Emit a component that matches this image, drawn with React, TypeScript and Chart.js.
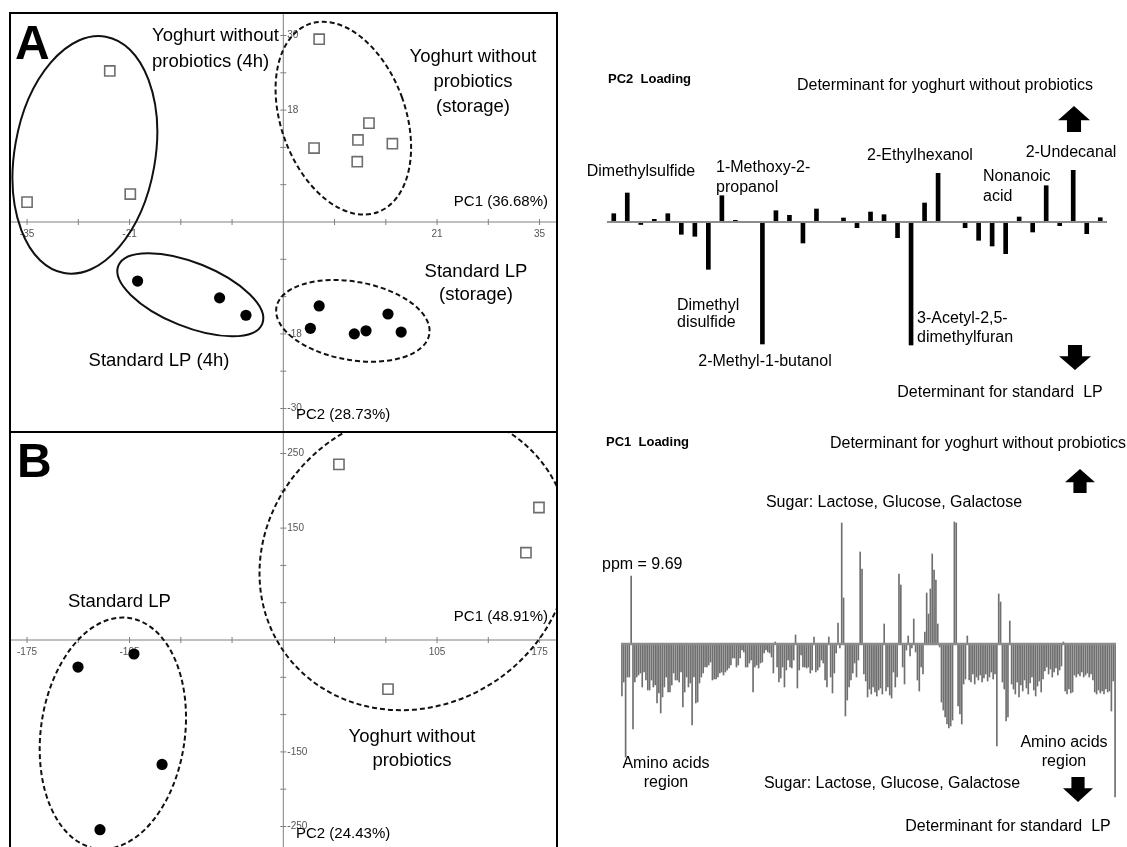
import React, { useEffect, useRef } from "react";
import { Chart, registerables } from "chart.js";

Chart.register(...registerables);

const FONT = '"Liberation Sans", Arial, Helvetica, sans-serif';
Chart.defaults.font.family = FONT;

// ---------------- Panel A: PCA scores, PC1 vs PC2 ----------------
const aYog4hPC1 = [-23.7, -35.0, -20.9];
const aYog4hPC2 = [24.3, 3.2, 4.5];
const aYogStoragePC1 = [4.9, 11.7, 10.2, 14.9, 4.2, 10.1];
const aYogStoragePC2 = [29.4, 15.9, 13.2, 12.6, 11.9, 9.7];
const aLp4hPC1 = [-19.9, -8.7, -5.1];
const aLp4hPC2 = [-9.5, -12.2, -15.0];
const aLpStoragePC1 = [4.9, 3.7, 9.7, 11.3, 14.3, 16.1];
const aLpStoragePC2 = [-13.5, -17.1, -18.0, -17.5, -14.8, -17.7];
const aXTicks = [-35, -28, -21, -14, -7, 7, 14, 21, 28, 35];
const aXTickLabels = [-35, -21, 21, 35];
const aYTicks = [-30, -24, -18, -12, -6, 6, 12, 18, 24, 30];
const aYTickLabels = [30, 18, -18, -30];
// group ellipses: centre (PC1, PC2), semi-axes in score units, tilt in degrees
const aEllipses = [
  { cx: -27.1, cy: 10.8, rx: 9.6, ry: 19.3, tilt: 10 },
  { cx: 8.2, cy: 16.7, rx: 8.5, ry: 16.1, tilt: -20 },
  { cx: -12.7, cy: -11.7, rx: 10.6, ry: 5.15, tilt: 22 },
  { cx: 9.5, cy: -15.9, rx: 10.6, ry: 6.3, tilt: 10 },
];
const aEllipseDashed = [false, true, false, true];

// ---------------- Panel B: PCA scores, PC1 vs PC2 ----------------
const bYogPC1 = [38.0, 174.6, 165.7, 71.5];
const bYogPC2 = [235.4, 177.6, 117.0, -65.9];
const bLpPC1 = [-140.2, -102.0, -82.8, -125.2];
const bLpPC2 = [-36.3, -18.8, -166.8, -254.3];
const bXTicks = [-175, -140, -105, -70, -35, 35, 70, 105, 140, 175];
const bXTickLabels = [-175, -105, 105, 175];
const bYTicks = [-250, -200, -150, -100, -50, 50, 100, 150, 200, 250];
const bYTickLabels = [250, 150, -150, -250];
const bEllipses = [
  { cx: 89.9, cy: 107.6, rx: 109.3, ry: 195.1, tilt: -35 },
  { cx: -116.4, cy: -125.1, rx: 49.2, ry: 156.1, tilt: 8 },
];
const bEllipseDashed = [true, true];

// ---------------- PC2 loadings (volatile compounds) ----------------
const pc2Loadings = [
  8.3, 29, -2.5, 2.7, 8.3, -12.3, -14.3, -47.3, 26.3, 1.7, 0, -122, 11.3, 6.7, -21, 13, 0, 4, -5.7,
  10, 7.3, -15.7, -123, 19, 48.7, 0, -5.7, -18.3, -24, -31.7, 5, -10, 36.3, -3.7, 51.7, -11.7, 4.3,
];
const pc2Compounds = pc2Loadings.map((_, i) => `V${i + 1}`);

// ---------------- PC1 loadings (NMR bins) ----------------
const pc1Loadings = [
  -52, -38, -113, -33, -33, 68, -85, -38, -33, -31, -29, -43, -28, -36, -46, -46, -36, -43, -41, -59,
  -49, -69, -53, -43, -33, -48, -48, -41, -29, -36, -36, -38, -28, -63, -48, -33, -43, -39, -81, -33,
  -59, -58, -39, -33, -29, -23, -23, -21, -18, -36, -35, -35, -33, -29, -28, -31, -28, -26, -24, -21,
  -14, -14, -23, -21, -14, -6, -8, -23, -23, -19, -16, -48, -23, -21, -24, -19, -18, -9, -6, -8,
  -9, -13, -29, 2, -23, -38, -34, -23, -43, -26, -16, -23, -24, -16, 9, -44, -26, -11, -23, -23,
  -24, -23, -29, -26, 7, -28, -26, -23, -16, -19, -36, -43, 7, -33, -49, -29, -9, 21, -4, 121,
  46, -72, -56, -43, -36, -29, -19, -33, -16, 92, 75, -30, -37, -53, -45, -50, -43, -48, -52, -46,
  -44, -50, 20, -47, -43, -51, -54, -28, -43, -33, 70, 59, -23, -40, -6, 8, -12, -4, 25, -8,
  -36, -47, -23, -30, 12, 51, 30, 55, 90, 74, 64, 20, -3, -58, -66, -73, -80, -84, -82, -76,
  122, 121, -62, -70, -80, -40, -35, 8, -36, -38, -30, -40, -33, -36, -31, -38, -34, -30, -37, -33,
  -28, -35, -30, -102, 50, 42, -38, -45, -77, -73, 23, -40, -45, -50, -38, -53, -41, -47, -36, -44,
  -50, -39, -33, -46, -52, -42, -37, -48, -35, -27, -23, -30, -25, -33, -28, -24, -31, -26, -22, 2,
  -47, -50, -45, -49, -48, -31, -33, -30, -32, -28, -33, -31, -29, -33, -30, -36, -48, -50, -46, -49,
  -47, -50, -45, -48, -47, -67, -37, -153,
];
const pc1Bins = pc1Loadings.map((_, i) => `B${i + 1}`);

// ---------------- layout ----------------
type Box = { left: number; top: number; width: number; height: number };
type Note = { t: string; x: number; y: number; align?: CanvasTextAlign; size: number; bold?: boolean };
type Arrow = { cx: number; top: number; bottom: number; w: number; dir: "up" | "down" };

const boxA: Box = { left: 9, top: 12, width: 549, height: 421 };
const boxB: Box = { left: 9, top: 431, width: 549, height: 418 };
const boxPC2: Box = { left: 570, top: 60, width: 557, height: 350 };
const boxPC1: Box = { left: 570, top: 420, width: 557, height: 427 };

const BIG = 18.5;
const AXT = 15;
const RT = 16;

const notesA: Note[] = [
  { t: "A", x: 15, y: 46, align: "left", size: 48, bold: true },
  { t: "Yoghurt without", x: 152, y: 36, align: "left", size: BIG },
  { t: "probiotics (4h)", x: 152, y: 62, align: "left", size: BIG },
  { t: "Yoghurt without", x: 473, y: 57, size: BIG },
  { t: "probiotics", x: 473, y: 82, size: BIG },
  { t: "(storage)", x: 473, y: 107, size: BIG },
  { t: "PC1 (36.68%)", x: 548, y: 202, align: "right", size: AXT },
  { t: "Standard LP (4h)", x: 159, y: 361, size: BIG },
  { t: "Standard LP", x: 476, y: 272, size: BIG },
  { t: "(storage)", x: 476, y: 295, size: BIG },
  { t: "PC2 (28.73%)", x: 296, y: 415, align: "left", size: AXT },
];
const notesB: Note[] = [
  { t: "B", x: 17, y: 464, align: "left", size: 48, bold: true },
  { t: "Standard LP", x: 68, y: 602, align: "left", size: BIG },
  { t: "Yoghurt without", x: 412, y: 737, size: BIG },
  { t: "probiotics", x: 412, y: 761, size: BIG },
  { t: "PC1 (48.91%)", x: 548, y: 617, align: "right", size: AXT },
  { t: "PC2 (24.43%)", x: 296, y: 834, align: "left", size: AXT },
];
const notesPC2: Note[] = [
  { t: "PC2  Loading", x: 608, y: 79, align: "left", size: 13, bold: true },
  { t: "Determinant for yoghurt without probiotics", x: 945, y: 86, size: RT },
  { t: "Dimethylsulfide", x: 641, y: 172, size: RT },
  { t: "1-Methoxy-2-", x: 716, y: 168, align: "left", size: RT },
  { t: "propanol", x: 716, y: 188, align: "left", size: RT },
  { t: "2-Ethylhexanol", x: 920, y: 156, size: RT },
  { t: "2-Undecanal", x: 1071, y: 153, size: RT },
  { t: "Nonanoic", x: 983, y: 177, align: "left", size: RT },
  { t: "acid", x: 983, y: 197, align: "left", size: RT },
  { t: "Dimethyl", x: 677, y: 306, align: "left", size: RT },
  { t: "disulfide", x: 677, y: 323, align: "left", size: RT },
  { t: "2-Methyl-1-butanol", x: 765, y: 362, size: RT },
  { t: "3-Acetyl-2,5-", x: 917, y: 319, align: "left", size: RT },
  { t: "dimethylfuran", x: 917, y: 338, align: "left", size: RT },
  { t: "Determinant for standard  LP", x: 1000, y: 393, size: RT },
];
const arrowsPC2: Arrow[] = [
  { cx: 1074, top: 106, bottom: 132, w: 32, dir: "up" },
  { cx: 1075, top: 345, bottom: 370, w: 32, dir: "down" },
];
const notesPC1: Note[] = [
  { t: "PC1  Loading", x: 606, y: 442, align: "left", size: 13, bold: true },
  { t: "Determinant for yoghurt without probiotics", x: 978, y: 444, size: RT },
  { t: "Sugar: Lactose, Glucose, Galactose", x: 894, y: 503, size: RT },
  { t: "ppm = 9.69", x: 602, y: 565, align: "left", size: RT },
  { t: "Amino acids", x: 666, y: 764, size: RT },
  { t: "region", x: 666, y: 783, size: RT },
  { t: "Sugar: Lactose, Glucose, Galactose", x: 892, y: 784, size: RT },
  { t: "Amino acids", x: 1064, y: 743, size: RT },
  { t: "region", x: 1064, y: 762, size: RT },
  { t: "Determinant for standard  LP", x: 1008, y: 827, size: RT },
];
const arrowsPC1: Arrow[] = [
  { cx: 1080, top: 469, bottom: 493, w: 30, dir: "up" },
  { cx: 1078, top: 777, bottom: 802, w: 30, dir: "down" },
];

// ---------------- drawing helpers ----------------
function drawNotes(ctx: CanvasRenderingContext2D, notes: Note[], box: Box) {
  ctx.save();
  ctx.fillStyle = "#000";
  ctx.textBaseline = "middle";
  for (const n of notes) {
    ctx.font = `${n.bold ? "bold " : ""}${n.size}px ${FONT}`;
    ctx.textAlign = n.align ?? "center";
    ctx.fillText(n.t, n.x - box.left, n.y - box.top);
  }
  ctx.restore();
}

function drawArrows(ctx: CanvasRenderingContext2D, arrows: Arrow[], box: Box) {
  ctx.save();
  ctx.fillStyle = "#000";
  for (const a of arrows) {
    const cx = a.cx - box.left;
    const top = a.top - box.top;
    const bot = a.bottom - box.top;
    const h = bot - top;
    const head = h * 0.55;
    const sw = a.w * 0.44;
    ctx.beginPath();
    if (a.dir === "up") {
      ctx.moveTo(cx, top);
      ctx.lineTo(cx + a.w / 2, top + head);
      ctx.lineTo(cx + sw / 2, top + head);
      ctx.lineTo(cx + sw / 2, bot);
      ctx.lineTo(cx - sw / 2, bot);
      ctx.lineTo(cx - sw / 2, top + head);
      ctx.lineTo(cx - a.w / 2, top + head);
    } else {
      ctx.moveTo(cx, bot);
      ctx.lineTo(cx + a.w / 2, bot - head);
      ctx.lineTo(cx + sw / 2, bot - head);
      ctx.lineTo(cx + sw / 2, top);
      ctx.lineTo(cx - sw / 2, top);
      ctx.lineTo(cx - sw / 2, bot - head);
      ctx.lineTo(cx - a.w / 2, bot - head);
    }
    ctx.closePath();
    ctx.fill();
  }
  ctx.restore();
}

type Ellipse = { cx: number; cy: number; rx: number; ry: number; tilt: number };
type ScoreSpec = {
  box: Box;
  xRange: [number, number];
  yRange: [number, number];
  squares: { x: number; y: number }[];
  circles: { x: number; y: number }[];
  xTicks: number[];
  xTickLabels: number[];
  yTicks: number[];
  yTickLabels: number[];
  ellipses: Ellipse[];
  dashed: boolean[];
  notes: Note[];
};

function toPoints(xs: number[], ys: number[]) {
  return xs.map((x, i) => ({ x, y: ys[i] }));
}

function scoreConfig(s: ScoreSpec): any {
  const decor = {
    id: "scoreDecor",
    beforeDatasetsDraw(chart: any) {
      const { ctx, chartArea: a, scales } = chart;
      const xs = scales.x;
      const ys = scales.y;
      const x0 = xs.getPixelForValue(0);
      const y0 = ys.getPixelForValue(0);
      ctx.save();
      ctx.strokeStyle = "#808080";
      ctx.lineWidth = 1;
      ctx.beginPath();
      ctx.moveTo(a.left, y0);
      ctx.lineTo(a.right, y0);
      ctx.moveTo(x0, a.top);
      ctx.lineTo(x0, a.bottom);
      for (const t of s.xTicks) {
        const px = xs.getPixelForValue(t);
        ctx.moveTo(px, y0 - 3);
        ctx.lineTo(px, y0 + 3);
      }
      for (const t of s.yTicks) {
        const py = ys.getPixelForValue(t);
        ctx.moveTo(x0 - 3, py);
        ctx.lineTo(x0 + 3, py);
      }
      ctx.stroke();
      ctx.fillStyle = "#555";
      ctx.font = `10px ${FONT}`;
      ctx.textBaseline = "middle";
      ctx.textAlign = "center";
      for (const t of s.xTickLabels) ctx.fillText(String(t), xs.getPixelForValue(t), y0 + 12);
      ctx.textAlign = "left";
      for (const t of s.yTickLabels) ctx.fillText(String(t), x0 + 4, ys.getPixelForValue(t));

      ctx.beginPath();
      ctx.rect(a.left, a.top, a.right - a.left, a.bottom - a.top);
      ctx.clip();
      ctx.strokeStyle = "#111";
      ctx.lineWidth = 2;
      s.ellipses.forEach((e, k) => {
        const cx = xs.getPixelForValue(e.cx);
        const cy = ys.getPixelForValue(e.cy);
        const rx = Math.abs(xs.getPixelForValue(e.cx + e.rx) - cx);
        const ry = Math.abs(ys.getPixelForValue(e.cy + e.ry) - cy);
        ctx.setLineDash(s.dashed[k] ? [5, 3] : []);
        ctx.beginPath();
        ctx.ellipse(cx, cy, rx, ry, (e.tilt * Math.PI) / 180, 0, Math.PI * 2);
        ctx.stroke();
      });
      ctx.restore();
    },
    afterDraw(chart: any) {
      const { ctx, width, height } = chart;
      ctx.save();
      ctx.strokeStyle = "#000";
      ctx.lineWidth = 2;
      ctx.strokeRect(1, 1, width - 2, height - 2);
      ctx.restore();
      drawNotes(ctx, s.notes, s.box);
    },
  };
  return {
    type: "scatter",
    data: {
      datasets: [
        {
          data: s.squares,
          pointStyle: "rect",
          pointRadius: 7.2,
          backgroundColor: "#fff",
          borderColor: "#6e6e6e",
          borderWidth: 1.6,
        },
        {
          data: s.circles,
          pointStyle: "circle",
          pointRadius: 5.6,
          backgroundColor: "#000",
          borderColor: "#000",
          borderWidth: 0,
        },
      ],
    },
    options: {
      responsive: false,
      animation: false,
      devicePixelRatio: 1,
      events: [],
      layout: { padding: 0, autoPadding: false },
      plugins: { legend: { display: false }, tooltip: { enabled: false } },
      scales: {
        x: { type: "linear", display: false, bounds: "data", min: s.xRange[0], max: s.xRange[1] },
        y: { type: "linear", display: false, bounds: "data", min: s.yRange[0], max: s.yRange[1] },
      },
    },
    plugins: [decor],
  };
}

type LoadingSpec = {
  box: Box;
  labels: string[];
  values: number[];
  yRange: [number, number];
  padding: { left: number; right: number; top: number; bottom: number };
  barColor: string;
  barThickness: number;
  axisColor: string;
  axisWidth: number;
  notes: Note[];
  arrows: Arrow[];
};

function loadingConfig(s: LoadingSpec): any {
  const decor = {
    id: "loadingDecor",
    afterDatasetsDraw(chart: any) {
      const { ctx, chartArea: a, scales } = chart;
      const y0 = scales.y.getPixelForValue(0);
      ctx.save();
      ctx.strokeStyle = s.axisColor;
      ctx.lineWidth = s.axisWidth;
      ctx.beginPath();
      ctx.moveTo(a.left, y0);
      ctx.lineTo(a.right, y0);
      ctx.stroke();
      ctx.restore();
    },
    afterDraw(chart: any) {
      drawNotes(chart.ctx, s.notes, s.box);
      drawArrows(chart.ctx, s.arrows, s.box);
    },
  };
  return {
    type: "bar",
    data: {
      labels: s.labels,
      datasets: [
        {
          data: s.values,
          backgroundColor: s.barColor,
          borderWidth: 0,
          barThickness: s.barThickness,
        },
      ],
    },
    options: {
      responsive: false,
      animation: false,
      devicePixelRatio: 1,
      events: [],
      layout: { padding: s.padding, autoPadding: false },
      plugins: { legend: { display: false }, tooltip: { enabled: false } },
      scales: {
        x: { display: false, grid: { display: false } },
        y: { display: false, min: s.yRange[0], max: s.yRange[1] },
      },
    },
    plugins: [decor],
  };
}

function ChartBox({ box, config }: { box: Box; config: () => any }) {
  const ref = useRef<HTMLCanvasElement>(null);
  useEffect(() => {
    const chart = new Chart(ref.current as HTMLCanvasElement, config());
    return () => chart.destroy();
  }, []);
  return (
    <div style={{ position: "absolute", left: box.left, top: box.top, width: box.width, height: box.height }}>
      <canvas ref={ref} width={box.width} height={box.height} style={{ display: "block" }} />
    </div>
  );
}

// pixel scale of the score panels: one tick step = 51.25 px across, 37.3 px down
const X0 = 283.3;
const YA0 = 222;
const YB0 = 640;

function rangeFor(box: Box, origin: number, pxPerUnit: number, horizontal: boolean): [number, number] {
  if (horizontal) {
    return [-(origin - box.left) / pxPerUnit, (box.left + box.width - origin) / pxPerUnit];
  }
  return [-(box.top + box.height - origin) / pxPerUnit, (origin - box.top) / pxPerUnit];
}

export default function App() {
  const specA: ScoreSpec = {
    box: boxA,
    xRange: rangeFor(boxA, X0, 51.25 / 7, true),
    yRange: rangeFor(boxA, YA0, 37.3 / 6, false),
    squares: [...toPoints(aYog4hPC1, aYog4hPC2), ...toPoints(aYogStoragePC1, aYogStoragePC2)],
    circles: [...toPoints(aLp4hPC1, aLp4hPC2), ...toPoints(aLpStoragePC1, aLpStoragePC2)],
    xTicks: aXTicks,
    xTickLabels: aXTickLabels,
    yTicks: aYTicks,
    yTickLabels: aYTickLabels,
    ellipses: aEllipses,
    dashed: aEllipseDashed,
    notes: notesA,
  };
  const specB: ScoreSpec = {
    box: boxB,
    xRange: rangeFor(boxB, X0, 51.25 / 35, true),
    yRange: rangeFor(boxB, YB0, 37.3 / 50, false),
    squares: toPoints(bYogPC1, bYogPC2),
    circles: toPoints(bLpPC1, bLpPC2),
    xTicks: bXTicks,
    xTickLabels: bXTickLabels,
    yTicks: bYTicks,
    yTickLabels: bYTickLabels,
    ellipses: bEllipses,
    dashed: bEllipseDashed,
    notes: notesB,
  };
  const specPC2: LoadingSpec = {
    box: boxPC2,
    labels: pc2Compounds,
    values: pc2Loadings,
    yRange: [-140, 70],
    padding: { left: 37, right: 20, top: 92, bottom: 48 },
    barColor: "#000",
    barThickness: 4,
    axisColor: "#8c8c8c",
    axisWidth: 2,
    notes: notesPC2,
    arrows: arrowsPC2,
  };
  const specPC1: LoadingSpec = {
    box: boxPC1,
    labels: pc1Bins,
    values: pc1Loadings,
    yRange: [-166, 134],
    padding: { left: 51, right: 11, top: 90, bottom: 37 },
    barColor: "#6f6f6f",
    barThickness: 1,
    axisColor: "#8c8c8c",
    axisWidth: 2.5,
    notes: notesPC1,
    arrows: arrowsPC1,
  };
  return (
    <div
      style={{
        position: "absolute",
        left: 0,
        top: 0,
        width: 1127,
        height: 847,
        overflow: "hidden",
        background: "#fff",
      }}
    >
      <ChartBox box={boxA} config={() => scoreConfig(specA)} />
      <ChartBox box={boxB} config={() => scoreConfig(specB)} />
      <ChartBox box={boxPC2} config={() => loadingConfig(specPC2)} />
      <ChartBox box={boxPC1} config={() => loadingConfig(specPC1)} />
    </div>
  );
}
